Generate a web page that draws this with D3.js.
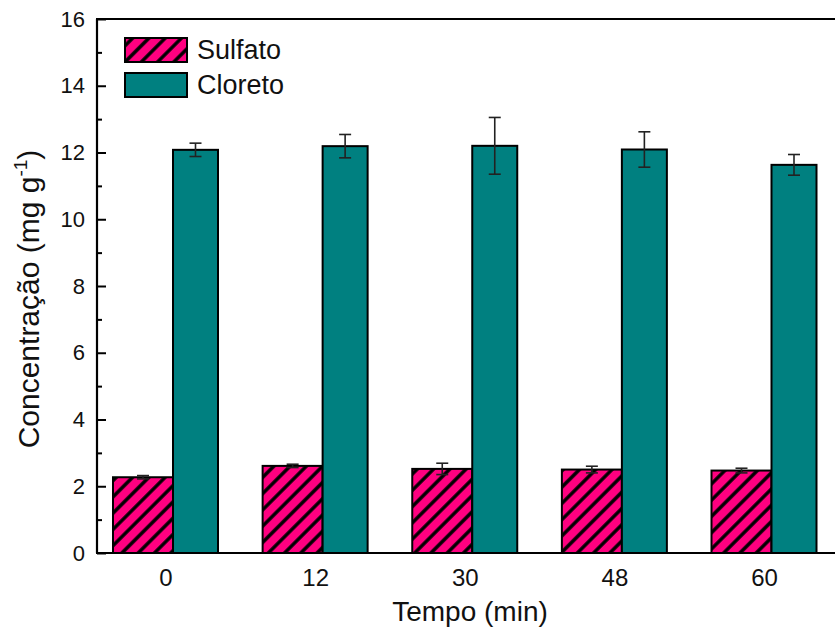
<!DOCTYPE html>
<html><head><meta charset="utf-8">
<script src="https://cdn.jsdelivr.net/npm/d3@7"></script>
<style>body{margin:0;background:#fff}svg{display:block}text{font-family:"Liberation Sans",Arial,sans-serif;fill:#111}</style>
</head><body>
<svg id="c" width="835" height="637"></svg>
<script>
const categories = ["0","12","30","48","60"];
const sulfato = [2.27, 2.61, 2.52, 2.50, 2.47];
const sulfatoErr = [0.05, 0.05, 0.17, 0.10, 0.07];
const cloreto = [12.08, 12.19, 12.20, 12.09, 11.63];
const cloretoErr = [0.20, 0.35, 0.85, 0.53, 0.31];
const yTicks = [0,2,4,6,8,10,12,14,16];
const seriesNames = ["Sulfato","Cloreto"];

(function(){
const svg = d3.select("#c");
const axisX = 97, plotTop = 19, plotBottom = 553, rightEdge = 835;
const y = d3.scaleLinear().domain([0,16]).range([plotBottom, plotTop]);
const x = d3.scalePoint().domain(categories).range([165.5, 764]);
const wS = 60, wC = 45;

const defs = svg.append("defs");
const pw = 11.5;
const pat = defs.append("pattern").attr("id","hatch").attr("patternUnits","userSpaceOnUse")
  .attr("width",pw).attr("height",pw).attr("patternTransform","rotate(45)");
pat.append("rect").attr("width",pw).attr("height",pw).attr("fill","#ff0080");
pat.append("line").attr("x1",pw/2).attr("y1",0).attr("x2",pw/2).attr("y2",pw).attr("stroke","#000").attr("stroke-width",3.4);

const g = svg.append("g");
g.selectAll(".bs").data(categories).join("rect")
  .attr("x", d => x(d) - (wS+wC)/2)
  .attr("y", (d,i) => y(sulfato[i])).attr("width", wS)
  .attr("height", (d,i) => plotBottom - y(sulfato[i]))
  .attr("fill","url(#hatch)").attr("stroke","#000").attr("stroke-width",2);
g.selectAll(".bc").data(categories).join("rect")
  .attr("x", d => x(d) - (wS+wC)/2 + wS)
  .attr("y", (d,i) => y(cloreto[i])).attr("width", wC)
  .attr("height", (d,i) => plotBottom - y(cloreto[i]))
  .attr("fill","#008080").attr("stroke","#000").attr("stroke-width",2);

function errBars(vals, errs, cxf){
  categories.forEach((c,i)=>{
    const cx = cxf(c);
    const y1 = y(vals[i]+errs[i]), y2 = y(vals[i]-errs[i]);
    const e = g.append("g").attr("stroke","#222").attr("stroke-width",1.6);
    e.append("line").attr("x1",cx).attr("x2",cx).attr("y1",y1).attr("y2",y2);
    e.append("line").attr("x1",cx-6).attr("x2",cx+6).attr("y1",y1).attr("y2",y1);
    e.append("line").attr("x1",cx-6).attr("x2",cx+6).attr("y1",y2).attr("y2",y2);
  });
}
errBars(sulfato, sulfatoErr, c => x(c) - (wS+wC)/2 + wS/2);
errBars(cloreto, cloretoErr, c => x(c) - (wS+wC)/2 + wS + wC/2);

const ya = svg.append("g").attr("transform",`translate(${axisX},0)`)
  .call(d3.axisLeft(y).tickValues(yTicks).tickSize(-9).tickPadding(12).tickFormat(d3.format("d")));
ya.select(".domain").remove();
ya.selectAll(".tick line").attr("stroke","#000").attr("stroke-width",2);
ya.selectAll(".tick text").attr("font-size",22).attr("font-family","Liberation Sans, Arial, sans-serif").attr("fill","#111");
const yminor = svg.append("g").attr("transform",`translate(${axisX},0)`)
  .call(d3.axisLeft(y).tickValues(d3.range(1,16,2)).tickSize(-5).tickFormat(""));
yminor.select(".domain").remove();
yminor.selectAll(".tick line").attr("stroke","#000").attr("stroke-width",2);

const xa = svg.append("g").attr("transform",`translate(0,${plotBottom})`)
  .call(d3.axisBottom(x).tickSize(0).tickPadding(16));
xa.select(".domain").remove();
xa.selectAll(".tick text").attr("font-size",24).attr("font-family","Liberation Sans, Arial, sans-serif").attr("fill","#111");

svg.append("line").attr("x1",axisX).attr("x2",axisX).attr("y1",plotTop).attr("y2",plotBottom).attr("stroke","#000").attr("stroke-width",2.2);
svg.append("line").attr("x1",axisX-1).attr("x2",rightEdge).attr("y1",plotBottom).attr("y2",plotBottom).attr("stroke","#000").attr("stroke-width",2.2);
svg.append("line").attr("x1",axisX-1).attr("x2",rightEdge).attr("y1",plotTop).attr("y2",plotTop).attr("stroke","#000").attr("stroke-width",2.2);

svg.append("text").attr("x",470).attr("y",621).attr("text-anchor","middle").attr("font-size",28).text("Tempo (min)");
const yt = svg.append("text").attr("transform","translate(39,299) rotate(-90)").attr("text-anchor","middle").attr("font-size",30);
yt.append("tspan").text("Concentração (mg g");
yt.append("tspan").attr("font-size",19).attr("dy",-12).text("-1");
yt.append("tspan").attr("dy",12).text(")");

const leg = svg.append("g");
seriesNames.forEach((n,i)=>{
  leg.append("rect").attr("x",125).attr("y",38+i*35).attr("width",62).attr("height",24)
    .attr("fill", i===0 ? "url(#hatch)" : "#008080").attr("stroke","#000").attr("stroke-width",2);
  leg.append("text").attr("x",197).attr("y",59+i*35).attr("font-size",27).text(n);
});
})();
</script>
</body></html>
